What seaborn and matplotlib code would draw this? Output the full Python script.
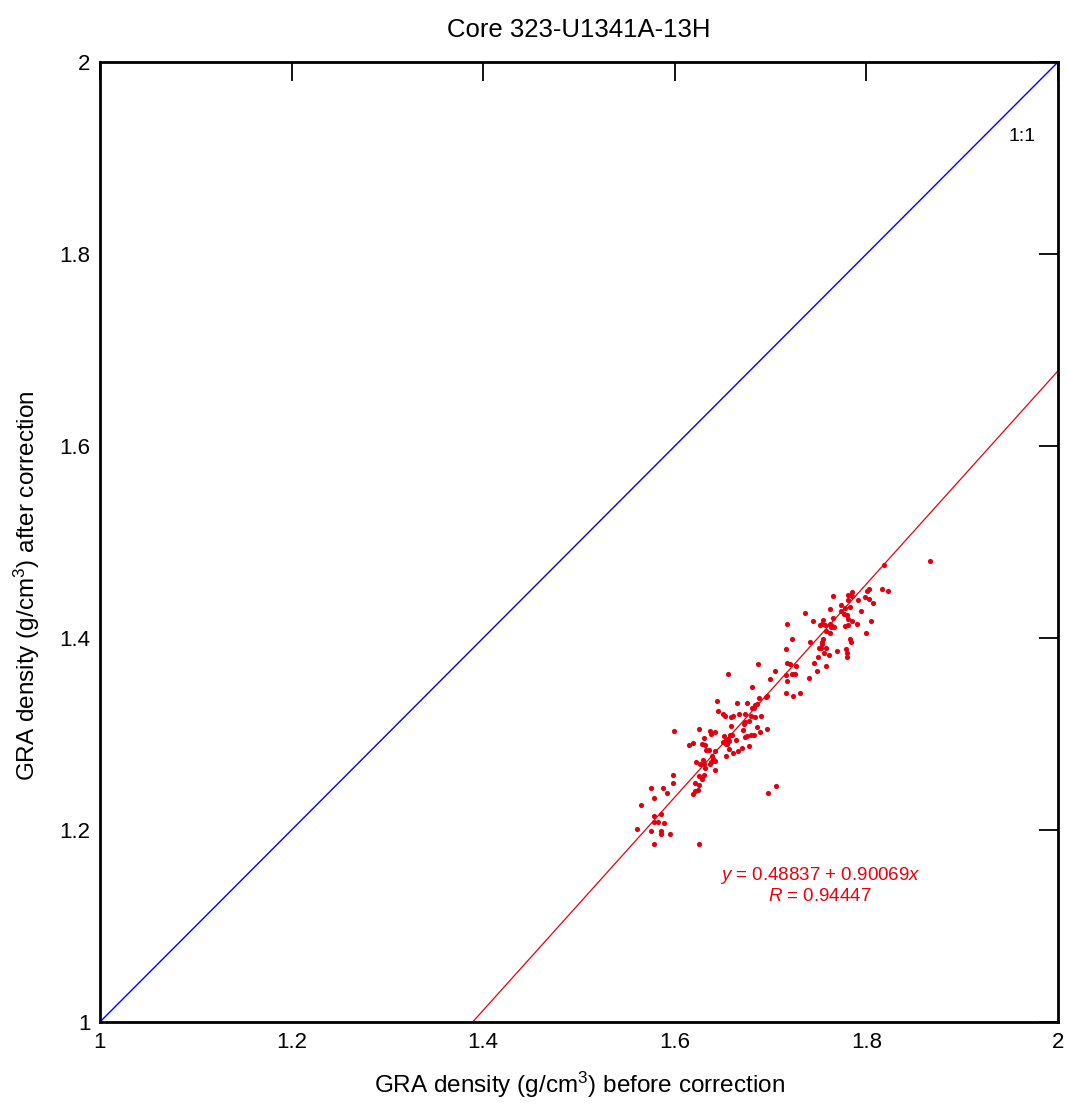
import matplotlib
matplotlib.use("Agg")
import matplotlib.pyplot as plt
import seaborn as sns
import numpy as np
import pandas as pd

# GRA density before / after correction
gra_before = [
    1.818, 1.816, 1.823, 1.803, 1.801, 1.803, 1.798, 1.807, 1.791, 1.794,
    1.805, 1.800, 1.765, 1.781, 1.785, 1.785, 1.781, 1.773, 1.778, 1.783,
    1.773, 1.777, 1.780, 1.781, 1.785, 1.778, 1.781, 1.790, 1.783, 1.784,
    1.779, 1.780, 1.780, 1.769, 1.762, 1.736, 1.744, 1.755, 1.752, 1.754,
    1.757, 1.762, 1.764, 1.766, 1.763, 1.765, 1.762, 1.758, 1.755, 1.754,
    1.754, 1.750, 1.753, 1.758, 1.756, 1.761, 1.749, 1.745, 1.748, 1.758,
    1.741, 1.740, 1.722, 1.717, 1.716, 1.717, 1.720, 1.726, 1.722, 1.725,
    1.716, 1.717, 1.731, 1.723, 1.716, 1.705, 1.699, 1.687, 1.655, 1.681,
    1.696, 1.695, 1.688, 1.686, 1.684, 1.683, 1.681, 1.680, 1.675, 1.665,
    1.673, 1.667, 1.661, 1.659, 1.652, 1.650, 1.645, 1.644, 1.684, 1.690,
    1.677, 1.673, 1.672, 1.659, 1.686, 1.696, 1.689, 1.683, 1.679, 1.675,
    1.673, 1.671, 1.660, 1.658, 1.655, 1.653, 1.657, 1.654, 1.653, 1.651,
    1.650, 1.664, 1.677, 1.670, 1.666, 1.661, 1.657, 1.653, 1.642, 1.638,
    1.637, 1.625, 1.630, 1.628, 1.632, 1.633, 1.636, 1.642, 1.639, 1.640,
    1.642, 1.638, 1.637, 1.629, 1.630, 1.626, 1.631, 1.622, 1.619, 1.615,
    1.625, 1.630, 1.628, 1.621, 1.625, 1.624, 1.621, 1.619, 1.642, 1.599,
    1.598, 1.598, 1.588, 1.575, 1.592, 1.578, 1.565, 1.586, 1.578, 1.582,
    1.578, 1.589, 1.561, 1.575, 1.586, 1.586, 1.595, 1.578, 1.625, 1.697,
    1.706, 1.866,
]
gra_after = [
    1.476, 1.451, 1.449, 1.451, 1.449, 1.441, 1.443, 1.436, 1.440, 1.428,
    1.418, 1.405, 1.444, 1.445, 1.448, 1.444, 1.440, 1.434, 1.431, 1.432,
    1.428, 1.425, 1.424, 1.420, 1.418, 1.412, 1.413, 1.415, 1.399, 1.396,
    1.388, 1.384, 1.380, 1.386, 1.430, 1.426, 1.418, 1.419, 1.413, 1.415,
    1.414, 1.415, 1.412, 1.411, 1.411, 1.421, 1.405, 1.407, 1.399, 1.396,
    1.394, 1.390, 1.390, 1.390, 1.384, 1.382, 1.380, 1.374, 1.366, 1.371,
    1.396, 1.358, 1.399, 1.415, 1.389, 1.374, 1.373, 1.371, 1.362, 1.362,
    1.361, 1.355, 1.343, 1.340, 1.343, 1.366, 1.357, 1.373, 1.362, 1.349,
    1.340, 1.338, 1.337, 1.331, 1.330, 1.327, 1.327, 1.319, 1.332, 1.332,
    1.321, 1.321, 1.319, 1.318, 1.319, 1.321, 1.324, 1.334, 1.318, 1.319,
    1.314, 1.312, 1.310, 1.308, 1.307, 1.305, 1.302, 1.299, 1.299, 1.298,
    1.297, 1.304, 1.299, 1.299, 1.295, 1.294, 1.293, 1.290, 1.290, 1.298,
    1.292, 1.294, 1.287, 1.285, 1.282, 1.280, 1.284, 1.277, 1.302, 1.300,
    1.303, 1.305, 1.296, 1.290, 1.288, 1.283, 1.283, 1.282, 1.277, 1.274,
    1.272, 1.271, 1.269, 1.273, 1.269, 1.269, 1.265, 1.271, 1.291, 1.288,
    1.256, 1.257, 1.253, 1.249, 1.247, 1.242, 1.241, 1.237, 1.262, 1.303,
    1.257, 1.249, 1.244, 1.244, 1.238, 1.233, 1.226, 1.217, 1.215, 1.208,
    1.208, 1.207, 1.201, 1.199, 1.199, 1.196, 1.196, 1.185, 1.185, 1.238,
    1.246, 1.480,
]

# regression as labelled: x = a + b * y
fit_a = 0.48837
fit_b = 0.90069
fit_r = 0.94447

df = pd.DataFrame({"before": gra_before, "after": gra_after})

sns.set_style("white")
plt.rcParams['font.family'] = ['Liberation Sans', 'DejaVu Sans']
plt.rcParams['mathtext.fontset'] = 'custom'
plt.rcParams['mathtext.rm'] = 'Liberation Sans'
plt.rcParams['mathtext.it'] = 'Liberation Sans:italic'
plt.rcParams['text.color'] = 'black'
plt.rcParams['axes.labelcolor'] = 'black'

fig = plt.figure(figsize=(10.67, 11.09), dpi=100)
ax = fig.add_axes([0.0937, 0.0785, 0.8979, 0.8656])

# 1:1 line
ax.plot([1, 2], [1, 2], color='#0000ff', lw=1)

# fitted line (from x = a + b*y)
yy = np.array([1.0, 2.0])
ax.plot(fit_a + fit_b * yy, yy, color='#e8000b', lw=0.9)

sns.scatterplot(data=df, x="before", y="after", ax=ax, color='#e00010',
                s=14, linewidth=0, legend=False)

ax.set_xlim(1, 2)
ax.set_ylim(1, 2)
ticks = [1, 1.2, 1.4, 1.6, 1.8, 2]
tick_labels = ['1', '1.2', '1.4', '1.6', '1.8', '2']
ax.set_xticks(ticks)
ax.set_xticklabels(tick_labels, fontsize=16)
ax.set_yticks(ticks)
ax.set_yticklabels(tick_labels, fontsize=16)
ax.tick_params(direction='in', length=14, width=1.3, top=True, right=True,
               pad=7, colors='black')
for sp in ax.spines.values():
    sp.set_linewidth(2)
    sp.set_color('black')
    sp.set_visible(True)

ax.set_xlabel('GRA density (g/cm$^3$) before correction', fontsize=17.5,
              labelpad=12, color='black')
ax.set_ylabel('GRA density (g/cm$^3$) after correction', fontsize=17.5,
              color='black')
ax.yaxis.set_label_coords(-0.06, 0.455)
ax.set_title('Core 323-U1341A-13H', fontsize=18.5, pad=18, color='black')

ax.text(1.962, 1.922, '1:1', fontsize=14, ha='center', va='center')
ax.text(1.7516, 1.153, '$y$ = 0.48837 + 0.90069$x$', color='#e8000b',
        fontsize=13.5, ha='center', va='center')
ax.text(1.7516, 1.131, '$R$ = 0.94447', color='#e8000b',
        fontsize=13.5, ha='center', va='center')

fig.savefig('out.png', dpi=100)
